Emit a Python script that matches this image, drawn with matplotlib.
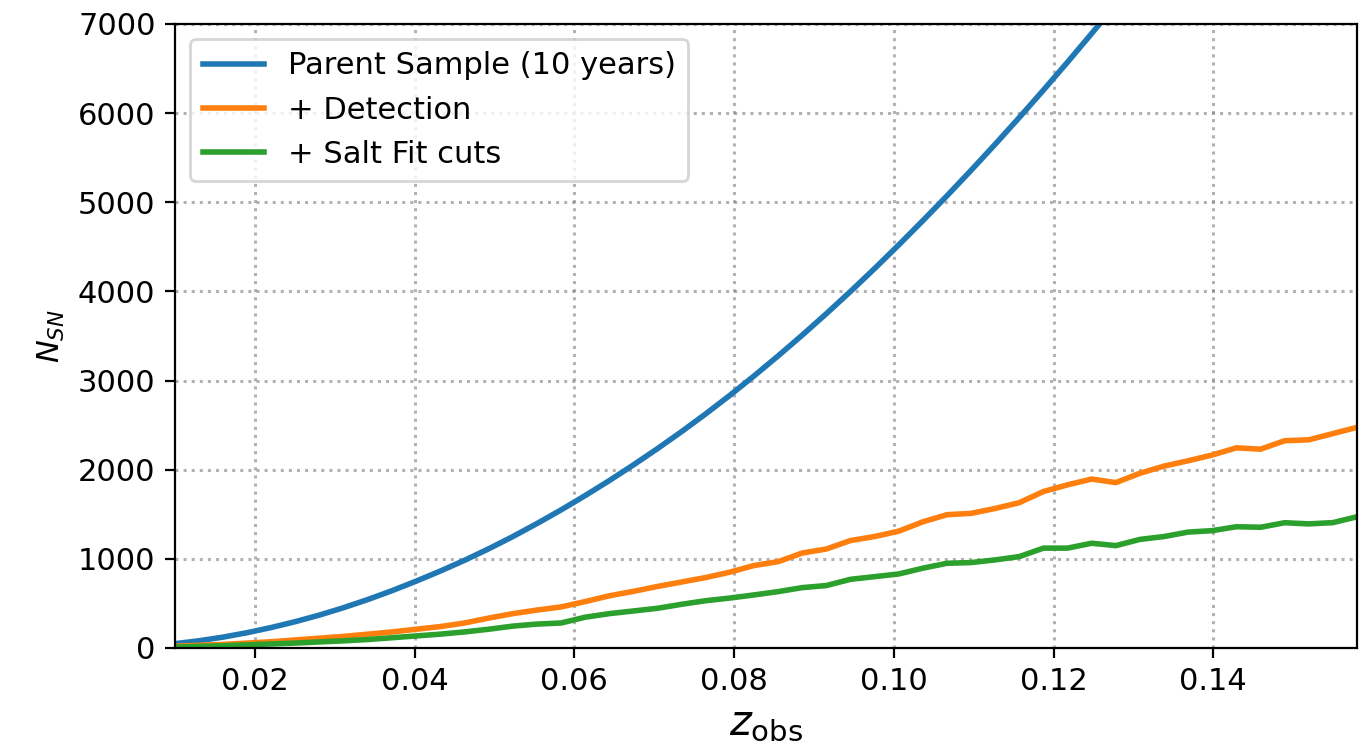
import numpy as np
import matplotlib
matplotlib.use("Agg")
import matplotlib.pyplot as plt

# Redshift grid shared by all three curves
z_obs = np.linspace(0.01, 0.158, 50)

# Cumulative number of SNe Ia for the parent sample (10 years)
n_parent = [48, 81, 122, 172, 230, 296, 370, 453, 544, 643,
            750, 863, 983, 1112, 1249, 1395, 1548, 1709, 1877, 2053,
            2236, 2427, 2626, 2834, 3051, 3276, 3509, 3750, 3999, 4256,
            4521, 4793, 5072, 5358, 5651, 5951, 6258, 6572, 6893, 7221,
            7556, 7898, 8247, 8603, 8966, 9336, 9713, 10097, 10488, 10886]

# After detection
n_detect = [20, 30, 40, 55, 70, 90, 110, 130, 155, 180,
            210, 240, 280, 335, 385, 425, 460, 520, 585, 635,
            690, 740, 790, 850, 925, 968, 1065, 1110, 1205, 1250,
            1310, 1415, 1495, 1510, 1565, 1630, 1755, 1830, 1895, 1855,
            1960, 2040, 2100, 2165, 2245, 2230, 2325, 2335, 2405, 2475]

# After SALT fit quality cuts
n_salt = [10, 18, 25, 35, 45, 55, 68, 80, 95, 115,
          135, 155, 180, 210, 245, 268, 280, 345, 385, 415,
          445, 490, 530, 560, 595, 632, 677, 700, 770, 800,
          830, 895, 950, 958, 988, 1025, 1120, 1120, 1175, 1148,
          1218, 1250, 1300, 1316, 1360, 1354, 1405, 1392, 1406, 1472]

labels = ["Parent Sample (10 years)", "+ Detection", "+ Salt Fit cuts"]
y_ticks = [0, 1000, 2000, 3000, 4000, 5000, 6000, 7000]
x_ticks = [0.02, 0.04, 0.06, 0.08, 0.10, 0.12, 0.14]

plt.rcParams["font.family"] = ["DejaVu Sans"]
plt.rcParams["font.size"] = 11

fig = plt.figure(figsize=(6.82, 3.78), dpi=200)
ax = fig.add_axes([0.1283, 0.1429, 0.8666, 0.8254])

ax.plot(z_obs, n_parent, color="C0", lw=2.0, label=labels[0])
ax.plot(z_obs, n_detect, color="C1", lw=2.0, label=labels[1])
ax.plot(z_obs, n_salt, color="C2", lw=2.0, label=labels[2])

ax.set_xlim(0.01, 0.158)
ax.set_ylim(0, 7000)
ax.set_xticks(x_ticks)
ax.set_xticklabels([f"{t:.2f}" for t in x_ticks])
ax.set_yticks(y_ticks)
ax.tick_params(labelsize=11)
ax.grid(True, linestyle=":", color="gray", alpha=0.6, lw=1.1)

ax.set_xlabel(r"$z_{\rm obs}$", fontsize=15, labelpad=2)
ax.set_ylabel(r"$N_{SN}$", fontsize=11)
ax.legend(loc="upper left", fontsize=11)

fig.savefig("out.png", dpi=200)
